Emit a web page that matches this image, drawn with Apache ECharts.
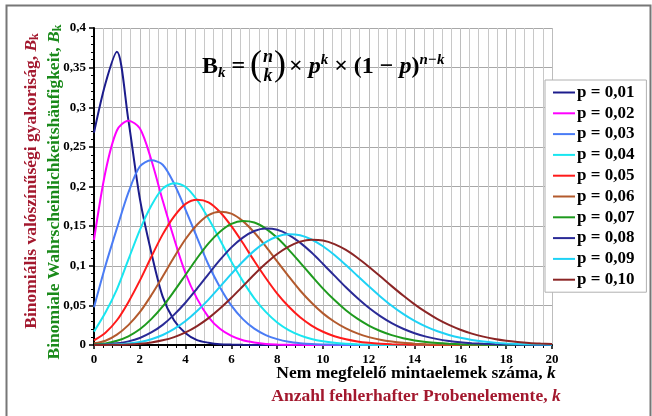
<!DOCTYPE html>
<html>
<head>
<meta charset="utf-8">
<script src="https://cdn.jsdelivr.net/npm/echarts@6/dist/echarts.min.js"></script>
<style>
html,body{margin:0;padding:0;background:#fff;}
#c{width:652px;height:416px;}
</style>
</head>
<body>
<div id="c"></div>
<script>
// x values: number of nonconforming items k
const K = [0,0.5,1,1.5,2,2.5,3,3.5,4,4.5,5,5.5,6,6.5,7,7.5,8,8.5,9,9.5,10,10.5,11,11.5,12,12.5,13,13.5,14,14.5,15,15.5,16,16.5,17,17.5,18,18.5,19,19.5,20];
// probabilities
const P01 = [0.268,0.330,0.370,0.284,0.185,0.117,0.061,0.031,0.0149,0.0062,0.0029,0.0010,0.0005,0.0002,0.0001,0,0,0,0,0,0,0,0,0,0,0,0,0,0,0,0,0,0,0,0,0,0,0,0,0,0];
const P02 = [0.1326,0.2186,0.2707,0.283,0.2734,0.2338,0.1823,0.1340,0.0902,0.0585,0.0353,0.0204,0.0114,0.0059,0.0031,0.0014,0.0007,0.0003,0.0002,0.0001,0,0,0,0,0,0,0,0,0,0,0,0,0,0,0,0,0,0,0,0,0];
const P03 = [0.0476,0.1000,0.1471,0.1922,0.2252,0.233,0.2275,0.2035,0.1706,0.1356,0.1013,0.0729,0.0496,0.0327,0.0206,0.0125,0.0074,0.0041,0.0023,0.0012,0.0007,0.0004,0.0002,0.0001,0,0,0,0,0,0,0,0,0,0,0,0,0,0,0,0,0];
const P04 = [0.0169,0.0409,0.0703,0.1077,0.1450,0.1757,0.1973,0.2041,0.1994,0.1830,0.1595,0.1328,0.1052,0.0806,0.0589,0.0418,0.0285,0.0189,0.0122,0.0076,0.0046,0.0027,0.0016,0.0009,0.0005,0.0002,0.0001,0,0,0,0,0,0,0,0,0,0,0,0,0,0];
const P05 = [0.0059,0.0155,0.0312,0.0541,0.0812,0.1111,0.1396,0.1624,0.1781,0.1833,0.1800,0.1679,0.1500,0.1287,0.1060,0.0846,0.0649,0.0485,0.0349,0.0245,0.0167,0.0111,0.0072,0.0045,0.0028,0.0017,0.0010,0.0006,0.0003,0.0002,0.0001,0,0,0,0,0,0,0,0,0,0];
const P06 = [0.0021,0.0054,0.0131,0.0251,0.0414,0.0627,0.0864,0.1110,0.1338,0.1517,0.1639,0.1682,0.1657,0.1563,0.1420,0.1245,0.1054,0.0866,0.0688,0.0533,0.0399,0.0293,0.0209,0.0146,0.0099,0.0066,0.0043,0.0027,0.0017,0.0010,0.0006,0.0003,0.0002,0.0001,0.0001,0,0,0,0,0,0];
const P07 = [0.0007,0.0018,0.0053,0.0110,0.0198,0.0326,0.0486,0.0680,0.0887,0.1095,0.1283,0.1430,0.1529,0.1564,0.1545,0.1469,0.1352,0.1204,0.1040,0.0874,0.0712,0.0567,0.0439,0.0332,0.0245,0.0177,0.0125,0.0086,0.0058,0.0038,0.0025,0.0016,0.0010,0.0006,0.0004,0.0002,0.0001,0,0,0,0];
const P08 = [0.0002,0.0005,0.0021,0.0046,0.0089,0.0158,0.0254,0.0383,0.0536,0.0712,0.0895,0.1073,0.1232,0.1355,0.1438,0.1469,0.1454,0.1391,0.1292,0.1166,0.1023,0.0875,0.0728,0.0592,0.0469,0.0364,0.0276,0.0205,0.0149,0.0106,0.0074,0.0051,0.0034,0.0023,0.0015,0.0010,0.0006,0.0004,0.0002,0.0001,0.0001];
const P09 = [0.0001,0.0002,0.0008,0.0019,0.0039,0.0073,0.0126,0.0203,0.0302,0.0428,0.0573,0.0734,0.0897,0.1053,0.1191,0.1297,0.1369,0.1396,0.1384,0.1331,0.1246,0.1135,0.1008,0.0874,0.0740,0.0613,0.0495,0.0392,0.0304,0.0232,0.0173,0.0127,0.0091,0.0064,0.0044,0.0030,0.0020,0.0013,0.0009,0.0006,0.0004];
const P10 = [0.0000,0.0001,0.0003,0.0007,0.0016,0.0032,0.0059,0.0100,0.0159,0.0239,0.0339,0.0460,0.0596,0.0742,0.0889,0.1027,0.1148,0.1241,0.1304,0.1329,0.1319,0.1273,0.1199,0.1101,0.0988,0.0867,0.0743,0.0624,0.0513,0.0414,0.0327,0.0254,0.0193,0.0144,0.0106,0.0076,0.0054,0.0038,0.0026,0.0018,0.0012];
const SERIES_VALUES = [P01,P02,P03,P04,P05,P06,P07,P08,P09,P10];
const SERIES_NAMES = ['p = 0,01','p = 0,02','p = 0,03','p = 0,04','p = 0,05','p = 0,06','p = 0,07','p = 0,08','p = 0,09','p = 0,10'];
const COLORS = ['#1c1c8c','#ff00ff','#4a7cf5','#19e6f0','#ff1a1a','#b35a2d','#1e9a1e','#2a2a96','#1ed2f5','#8b2525'];

const SERIF = '"Liberation Serif", "Times New Roman", serif';
const chart = echarts.init(document.getElementById('c'));

const series = SERIES_NAMES.map((name, i) => ({
  type: 'line',
  name: name,
  data: K.map((k, j) => [k, SERIES_VALUES[i][j]]),
  smooth: 0.3,
  symbol: 'none',
  lineStyle: { width: 2, color: COLORS[i] },
  itemStyle: { color: COLORS[i] },
  z: 3
}));

chart.setOption({
  animation: false,
  backgroundColor: '#fff',
  grid: { left: 94, right: 100, top: 28, bottom: 71 },
  xAxis: {
    type: 'value', min: 0, max: 20, interval: 2,
    axisLine: { lineStyle: { color: '#000', width: 2 } },
    axisTick: { show: true, length: 4, lineStyle: { color: '#000', width: 1.5 } },
    minorTick: { show: true, splitNumber: 5, length: 3, lineStyle: { color: '#000' } },
    axisLabel: { color: '#000', fontFamily: SERIF, fontWeight: 'bold', fontSize: 13, margin: 8 },
    splitLine: { show: true, lineStyle: { color: '#bdbdbd', width: 1 } },
    minorSplitLine: { show: true, lineStyle: { color: '#c8c8c8', width: 1 } }
  },
  yAxis: {
    type: 'value', min: 0, max: 0.4, interval: 0.05,
    axisLine: { show: true, lineStyle: { color: '#000', width: 2 } },
    axisTick: { show: true, length: 5, lineStyle: { color: '#000', width: 1.5 } },
    minorTick: { show: true, splitNumber: 5, length: 3, lineStyle: { color: '#000' } },
    axisLabel: {
      color: '#000', fontFamily: SERIF, fontWeight: 'bold', fontSize: 13, margin: 8,
      formatter: v => v === 0 ? '0' : String(+v.toFixed(2)).replace('.', ',')
    },
    splitLine: { show: true, lineStyle: { color: '#a8a8a8', width: 1 } }
  },
  legend: {
    orient: 'vertical', left: 545, top: 80,
    padding: [4, 12, 4, 8],
    itemGap: 3.8, itemWidth: 22, itemHeight: 2, icon: 'rect',
    backgroundColor: '#fff', borderColor: '#b0b0b0', borderWidth: 1,
    textStyle: { color: '#000', fontFamily: SERIF, fontWeight: 'bold', fontSize: 17, padding: [0, 0, 0, -3] },
    data: SERIES_NAMES
  },
  series: series,
  graphic: [
    { type: 'rect', left: 4, top: 3, shape: { width: 644, height: 430 },
      style: { fill: null, stroke: '#777', lineWidth: 2 }, silent: true },
    { type: 'text', x: 31, y: 181, rotation: Math.PI / 2,
      style: { text: '{a|Binomiális valószínűségi gyakoriság, }{i|B}{s|k}',
        align: 'center', verticalAlign: 'middle',
        rich: {
          a: { fontFamily: SERIF, fontWeight: 'bold', fontSize: 17.5, fill: '#a3182e', lineHeight: 20 },
          i: { fontFamily: SERIF, fontWeight: 'bold', fontStyle: 'italic', fontSize: 17.5, fill: '#a3182e', lineHeight: 20 },
          s: { fontFamily: SERIF, fontWeight: 'bold', fontSize: 12, fill: '#a3182e', verticalAlign: 'bottom', lineHeight: 20 }
        } } },
    { type: 'text', x: 54, y: 192, rotation: Math.PI / 2,
      style: { text: '{a|Binomiale Wahrscheinlichkeitshäufigkeit, }{i|B}{s|k}',
        align: 'center', verticalAlign: 'middle',
        rich: {
          a: { fontFamily: SERIF, fontWeight: 'bold', fontSize: 17.5, fill: '#1a8a1a', lineHeight: 20 },
          i: { fontFamily: SERIF, fontWeight: 'bold', fontStyle: 'italic', fontSize: 17.5, fill: '#1a8a1a', lineHeight: 20 },
          s: { fontFamily: SERIF, fontWeight: 'bold', fontSize: 12, fill: '#1a8a1a', verticalAlign: 'bottom', lineHeight: 20 }
        } } },
    { type: 'text', x: 416, y: 373,
      style: { text: '{a|Nem megfelelő mintaelemek száma, }{i|k}', align: 'center', verticalAlign: 'middle',
        rich: {
          a: { fontFamily: SERIF, fontWeight: 'bold', fontSize: 17.5, fill: '#000' },
          i: { fontFamily: SERIF, fontWeight: 'bold', fontStyle: 'italic', fontSize: 17.5, fill: '#000' }
        } } },
    { type: 'text', x: 416, y: 396,
      style: { text: '{a|Anzahl fehlerhafter Probenelemente, }{i|k}', align: 'center', verticalAlign: 'middle',
        rich: {
          a: { fontFamily: SERIF, fontWeight: 'bold', fontSize: 17.5, fill: '#a3182e' },
          i: { fontFamily: SERIF, fontWeight: 'bold', fontStyle: 'italic', fontSize: 17.5, fill: '#a3182e' }
        } } },
    // formula
    { type: 'text', x: 202, y: 67, z: 10,
      style: { text: '{b|B}{s|k}{t| =}', align: 'left', verticalAlign: 'middle',
        rich: {
          b: { fontFamily: SERIF, fontWeight: 'bold', fontSize: 24, fill: '#000', lineHeight: 28 },
          s: { fontFamily: SERIF, fontWeight: 'bold', fontStyle: 'italic', fontSize: 15, fill: '#000', verticalAlign: 'bottom', lineHeight: 28 },
          t: { fontFamily: SERIF, fontWeight: 'bold', fontSize: 24, fill: '#000', lineHeight: 28 }
        } } },
    { type: 'text', x: 250, y: 66, z: 10,
      style: { text: '(', align: 'left', verticalAlign: 'middle', fontFamily: SERIF, fontSize: 36, fill: '#000' } },
    { type: 'text', x: 274, y: 66, z: 10,
      style: { text: ')', align: 'left', verticalAlign: 'middle', fontFamily: SERIF, fontSize: 36, fill: '#000' } },
    { type: 'text', x: 268, y: 57, z: 10,
      style: { text: 'n', align: 'center', verticalAlign: 'middle', fontFamily: SERIF, fontWeight: 'bold', fontStyle: 'italic', fontSize: 18, fill: '#000' } },
    { type: 'text', x: 268, y: 76, z: 10,
      style: { text: 'k', align: 'center', verticalAlign: 'middle', fontFamily: SERIF, fontWeight: 'bold', fontStyle: 'italic', fontSize: 18, fill: '#000' } },
    { type: 'text', x: 289, y: 67, z: 10,
      style: { text: '{t|× }{i|p}{u|k}{t| × (1 − }{i|p}{t|)}{u|n−k}', align: 'left', verticalAlign: 'middle',
        rich: {
          t: { fontFamily: SERIF, fontWeight: 'bold', fontSize: 24, fill: '#000', lineHeight: 28 },
          i: { fontFamily: SERIF, fontWeight: 'bold', fontStyle: 'italic', fontSize: 24, fill: '#000', lineHeight: 28 },
          u: { fontFamily: SERIF, fontWeight: 'bold', fontStyle: 'italic', fontSize: 15, fill: '#000', verticalAlign: 'top', lineHeight: 28 }
        } } }
  ]
});
</script>
</body>
</html>
